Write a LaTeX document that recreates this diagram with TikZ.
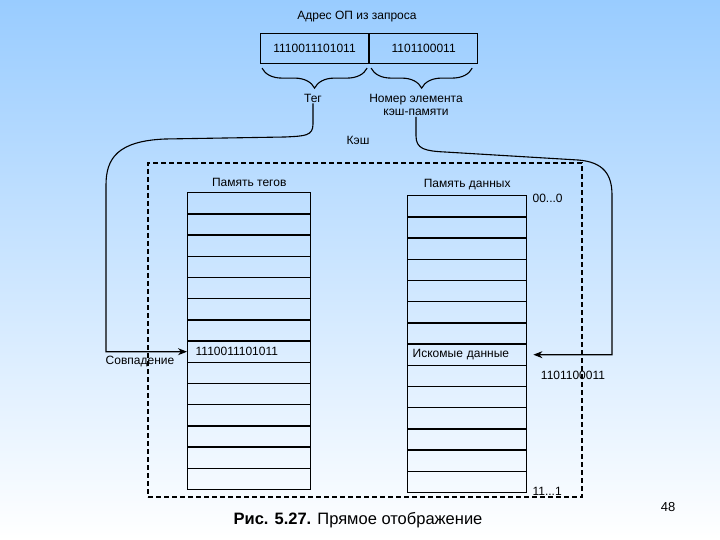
\documentclass[tikz,border=0pt]{standalone}
\usepackage{fontspec}
\setmainfont{Liberation Sans}
\usetikzlibrary{arrows.meta,decorations.pathreplacing,positioning}
\definecolor{slideblue}{RGB}{153,204,255}

\begin{document}
\begin{tikzpicture}[x=1pt,y=-1pt,>={Stealth[length=9pt,width=7pt]}]
  \tikzset{
    lbl/.style={font=\fontsize{12}{13}\selectfont,inner sep=1pt},
    cell/.style={draw=black,line width=1.4pt,anchor=north west,minimum height=21.2pt,
                 inner ysep=0pt,font=\fontsize{12}{14}\selectfont,align=left},
    tagcell/.style={cell,text width=107pt,inner xsep=8pt},
    datacell/.style={cell,text width=109pt,inner xsep=5pt},
    addr/.style={draw=black,line width=1.1pt,anchor=north west,minimum width=108pt,
                 minimum height=30pt,font=\fontsize{12}{14}\selectfont},
    wire/.style={draw=black,line width=1.1pt},
    brc/.style={draw=black,line width=1.1pt,decorate,decoration={brace,mirror,amplitude=20pt}},
    cachebox/.style={draw=black,line width=1.1pt,dash pattern=on 5pt off 3pt,
                     minimum width=434pt,minimum height=334pt,inner sep=0pt},
  }
  \useasboundingbox (0,0) rectangle (720,540);
  \shade[top color=slideblue,bottom color=white] (0,0) rectangle (720,540);

  % address from the request
  \node[lbl] (title) at (357,17) {Адрес ОП из запроса};
  \node[addr] (atag) at (260,33) {1110011101011};
  \node[addr] (aidx) at (atag.north east) {1101100011};
  \draw[brc] ([xshift=2pt,yshift=-4pt]atag.south west) -- ([xshift=-2pt,yshift=-4pt]atag.south east);
  \draw[brc] ([xshift=2pt,yshift=-4pt]aidx.south west) -- ([xshift=-6pt,yshift=-4pt]aidx.south east);
  \node[lbl] (teg) at (313,98) {Тег};
  \node[lbl,align=center] (num) at (416,105) {Номер элемента\\кэш-памяти};

  % cache
  \node[cachebox] (cache) at (365,330) {};
  \node[lbl] (kesh) at (358,140) {Кэш};
  \foreach \i in {1,...,14} {
    \node[tagcell] (t\i) at (187,{192+(\i-1)*21.2}) {\ifnum\i=8 1110011101011\fi};
    \node[datacell] (d\i) at (407,{195+(\i-1)*21.2}) {\ifnum\i=8 Искомые данные\fi};
  }
  \node[lbl,above=4pt of t1] (tmem) {Память тегов};
  \node[lbl,above=4pt of d1] (dmem) {Память данных};
  \node[lbl,anchor=west] (first) at ([xshift=4pt,yshift=-3pt]d1.north east) {00...0};
  \node[lbl,anchor=west] (last) at ([xshift=4pt,yshift=2pt]d14.south east) {11...1};

  % wires
  \draw[wire,->] (teg.south) -- (313,124) .. controls (313,136) and (305,136) .. (285,137)
    -- (165,139) .. controls (118,141) and (106,158) .. (106,185) |- (t8.west);
  \draw[wire,->,shorten >=6pt] (num.south) -- (416,136) .. controls (416,149) and (425,151) .. (445,152)
    -- (578,160) .. controls (604,162) and (612,175) .. (612,195) |- (d8.east);
  \node[lbl] (match) at (140,362) {Совпадение};
  \node[lbl] (idx) at (573,375) {1101100011};

  \node[font=\fontsize{16.5}{18}\selectfont] (cap) at (358,520) {\textbf{Рис. 5.27.} Прямое отображение};
  \node[font=\fontsize{13}{15}\selectfont] (page) at (668,507) {48};
\end{tikzpicture}
\end{document}
